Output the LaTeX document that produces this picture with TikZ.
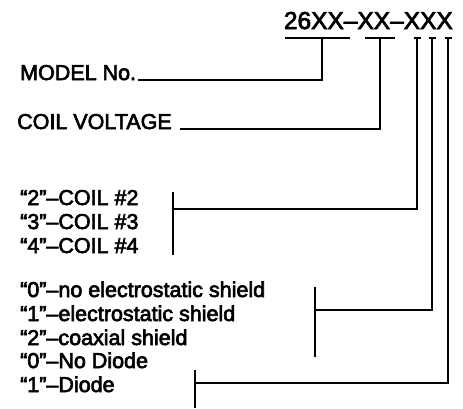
\documentclass[tikz,border=0pt]{standalone}
\usepackage{fontspec}
\setmainfont{Liberation Sans}
\newfontfamily\lblfont{Liberation Sans}[FakeBold=3,Ligatures=TeX]
\usetikzlibrary{positioning}

\begin{document}
\begin{tikzpicture}[x=1pt,y=-1pt,
lbl/.style={anchor=base west,inner sep=0pt,font=\lblfont\fontsize{21.5}{24}\selectfont},
code/.style={anchor=base east,inner sep=0pt,font=\lblfont\fontsize{24.5}{28}\selectfont},
lead/.style={line width=1.5pt},
heavy/.style={line width=2.6pt},
brk/.style={line width=1.3pt},
tick/.style={line width=1.2pt}
]
\useasboundingbox (0,0) rectangle (463,408);

\node[code] (pn) at (453,29) {26XX–XX–XXX};

% labels
\node[lbl] (model) at (20,80)  {MODEL No.};
\node[lbl] (volt)  at (17,129) {COIL VOLTAGE};
\node[lbl] (c2) at (20,205) {“2”–COIL \#2};
\node[lbl] (c3) at (20,229) {“3”–COIL \#3};
\node[lbl] (c4) at (20,253) {“4”–COIL \#4};
\node[lbl] (s0) at (20,297) {“0”–no electrostatic shield};
\node[lbl] (s1) at (20,321) {“1”–electrostatic shield};
\node[lbl] (s2) at (20,345) {“2”–coaxial shield};
\node[lbl] (d0) at (20,368) {“0”–No Diode};
\node[lbl] (d1) at (20,392) {“1”–Diode};

% taps under the part number
\coordinate (mtap) at (322,38);
\coordinate (vtap) at (380,38);
\coordinate (ctap) at (417,38);
\coordinate (stap) at (432,38);
\coordinate (dtap) at (448,38);
\draw[heavy] (285,38) -- (350,38);
\draw[heavy] (365,38) -- (395,38);
\foreach \t in {ctap,stap,dtap}
  \draw[tick] ([xshift=-3.5pt]\t) -- ([xshift=3.5pt]\t);

% brackets
\coordinate (cbrk) at (173,209);
\coordinate (sbrk) at (315,310);
\coordinate (dbrk) at (195,383);
\draw[brk] (173,192) -- (173,255);
\draw[brk] (315,287) -- (315,357);
\draw[brk] (195,370) -- (195,408);

% leaders
\draw[heavy] (mtap) |- ([xshift=2pt]model.base east);
\draw[lead] (vtap) |- ([xshift=8pt]volt.base east);
\draw[lead] (ctap) |- (cbrk);
\draw[lead] (stap) |- (sbrk);
\draw[lead] (dtap) |- (dbrk);
\end{tikzpicture}
\end{document}
